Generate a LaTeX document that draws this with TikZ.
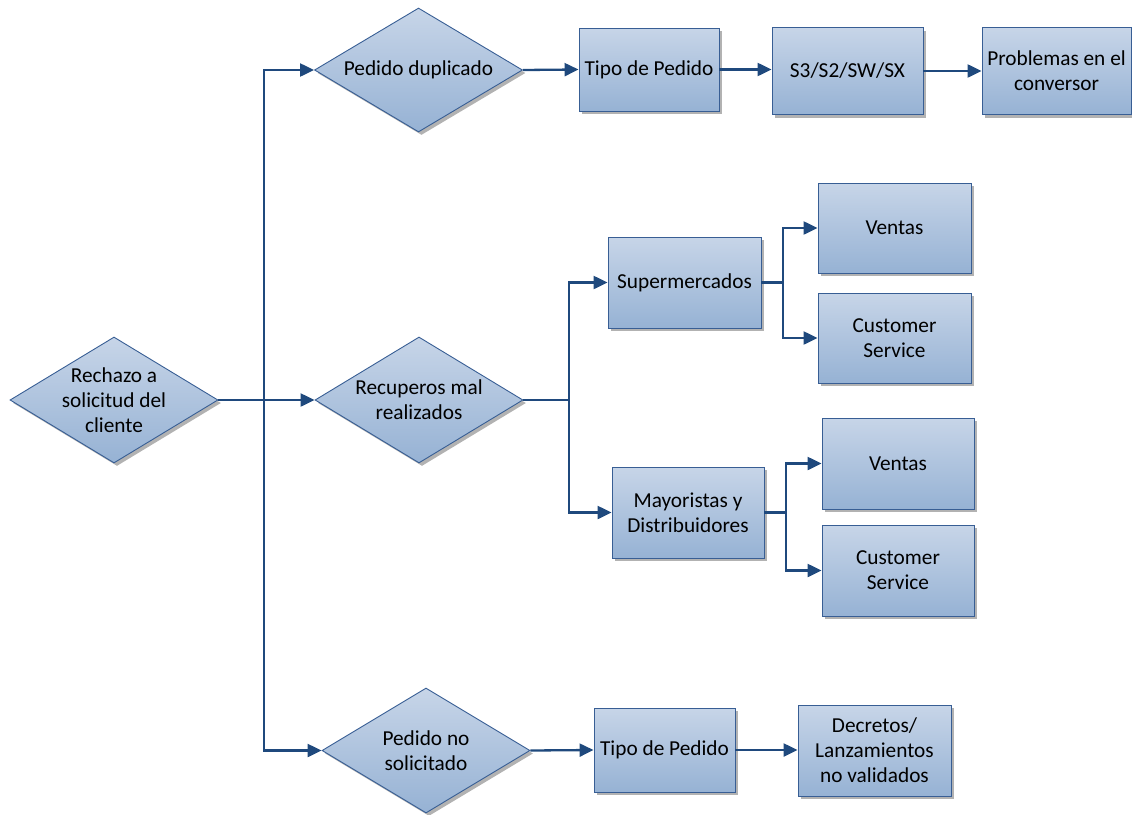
\documentclass[tikz,border=0pt]{standalone}
\usepackage{fontspec}
\setmainfont{Carlito}
\usetikzlibrary{shapes.geometric,shadows,arrows.meta}

\definecolor{fillTop}{RGB}{199,213,232}
\definecolor{fillBot}{RGB}{150,178,212}
\definecolor{edgeBlue}{RGB}{56,94,148}
\definecolor{lineBlue}{RGB}{31,73,125}

\tikzset{
  shapebase/.style={draw=edgeBlue, line width=0.9pt, top color=fillTop, bottom color=fillBot,
    drop shadow={shadow xshift=3pt, shadow yshift=-3pt, fill=black, opacity=0.3}},
  box/.style={shapebase, rectangle, align=center, inner sep=2pt,
    minimum width=#1, minimum height=90pt},
  box/.default=153pt,
  dia/.style={shapebase, diamond, inner sep=0pt, aspect=1.65,
    minimum width=208pt, minimum height=126pt},
  lab/.style={align=center, inner sep=0pt},
  arr/.style={draw=lineBlue, line width=2.3pt, -{Triangle[length=14pt,width=13pt]}},
  ln/.style={draw=lineBlue, line width=2.3pt},
}

\begin{document}
\begin{tikzpicture}[x=1pt, y=-1pt, font=\fontsize{21.3}{25}\selectfont]
\useasboundingbox (0,0) rectangle (1132,814);

% decision diamonds
\node[dia, label={[lab]center:Rechazo a\\solicitud del\\cliente}] (root) at (114,400) {};
\node[dia, minimum height=124pt, label={[lab]center:Pedido duplicado}] (d1) at (418.5,70) {};
\node[dia, label={[lab]center:Recuperos mal\\realizados}] (d2) at (419,400) {};
\node[dia, minimum height=125pt, label={[lab]center:Pedido no\\solicitado}] (d3) at (426,750.5) {};

% upper branch
\node[box=140pt, minimum height=83pt] (tp1) at (649,69.5) {Tipo de Pedido};
\node[box=151pt, minimum height=87pt] (s3) at (847.5,71) {S3/S2/SW/SX};
\node[box=149pt, minimum height=87pt] (pr) at (1056.5,71) {Problemas en el\\conversor};

% middle branch
\node[box, minimum height=91pt] (sup) at (684.5,282.5) {Supermercados};
\node[box] (v1) at (894.5,228) {Ventas};
\node[box] (cs1) at (894.5,338) {Customer\\Service};
\node[box=152pt, minimum height=91pt] (may) at (688,512.5) {Mayoristas y\\Distribuidores};
\node[box=152pt, minimum height=91pt] (v2) at (898,463.5) {Ventas};
\node[box=152pt, minimum height=91pt] (cs2) at (898,570.5) {Customer\\Service};

% lower branch
\node[box=141pt, minimum height=84pt] (tp2) at (664.5,750) {Tipo de Pedido};
\node[box, minimum height=91pt] (dec) at (874.5,750.5) {Decretos/\\Lanzamientos\\no validados};

% junction points
\coordinate (trunk) at (264,400);
\coordinate (jm) at (569,400);
\coordinate (js) at (783,282.5);
\coordinate (jd) at (786,512.5);

% connectors from the root
\draw[arr] (root.east) -- (d2.west);
\draw[arr] (trunk) |- (d1.west);
\draw[arr] (trunk) |- (d3.west);

% upper chain
\draw[arr] (d1.east) -- (tp1.west);
\draw[arr] (tp1.east) -- (tp1.east -| s3.west);
\draw[arr] (s3.east) -- (pr.west);

% middle split
\draw[ln] (d2.east) -- (jm);
\draw[arr] (jm) |- (sup.west);
\draw[arr] (jm) |- (may.west);
\draw[ln] (sup.east) -- (js);
\draw[arr] (js) |- (v1.west);
\draw[arr] (js) |- (cs1.west);
\draw[ln] (may.east) -- (jd);
\draw[arr] (jd) |- (v2.west);
\draw[arr] (jd) |- (cs2.west);

% lower chain
\draw[arr] (d3.east) -- (tp2.west);
\draw[arr] (tp2.east) -- (tp2.east -| dec.west);
\end{tikzpicture}
\end{document}
